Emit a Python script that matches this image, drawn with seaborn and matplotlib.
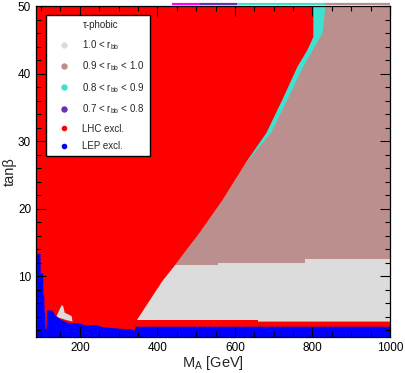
import numpy as np
import pandas as pd
import matplotlib
matplotlib.use("Agg")
import matplotlib.pyplot as plt
from matplotlib.lines import Line2D
from matplotlib.ticker import MultipleLocator
import seaborn as sns

# ---------------- data ----------------
x_range = [87, 1000]
y_range = [1, 50]

# right edge of the LHC-excluded (red) region, as function of tan(beta)
lhc_tb = [1.0, 3.5, 9.4, 11.4, 13.4, 16.4, 21.3, 27.0, 31.3, 36.2, 41.1, 43.6, 45.5, 50.0]
lhc_ma = [345, 345, 412, 440, 466, 506, 566, 628, 680, 721, 760, 786, 801, 801]

# right edge of the 0.8 < r_bb < 0.9 (turquoise) band
cyan_tb = [26.5, 31.3, 36.2, 41.1, 46.1, 50.0]
cyan_ma = [622, 692, 734, 775, 825, 832]

# 1.0 < r_bb (grey) region: bottom and stepwise top
grey_ma = [345, 556, 780, 1000]
grey_top = [11.6, 12.0, 12.6, 12.6]
grey_bottom = 3.3

# small grey island at low M_A
island_ma = [140, 153, 157, 161, 179, 181, 166, 144]
island_tb = [4.1, 5.7, 5.6, 4.6, 4.1, 3.3, 3.5, 3.9]

# LHC excluded band at low tan(beta)
band_ma = [87, 660, 1000]
band_top = [3.5, 3.2, 3.2]

# LEP excluded (blue) region upper edge
lep_ma = [87, 97, 98, 104, 105, 107, 108, 109, 110, 113, 114, 128, 135, 148,
          166, 182, 200, 210, 244, 260, 303, 337, 340, 343, 1000]
lep_tb = [13.4, 13.4, 10.5, 10.5, 7.2, 7.2, 4.7, 4.7, 2.3, 2.3, 5.0, 5.0, 4.3, 3.7,
          3.2, 3.1, 3.1, 2.8, 2.8, 2.5, 2.3, 2.2, 1.9, 2.6, 2.6]

# points at the top edge (tan(beta) = 50) spilling over the frame
edge_ma_start = [437, 510, 605, 832]
edge_ma_end = [510, 605, 832, 1000]
edge_colors = ["#FF00FF", "#6A2FB5", "#40E0D0", "#BC8F8F"]

legend_labels = ["τ-phobic", r"1.0 < r$_{\rm bb}$", r"0.9 < r$_{\rm bb}$ < 1.0",
                 r"0.8 < r$_{\rm bb}$ < 0.9", r"0.7 < r$_{\rm bb}$ < 0.8",
                 "LHC excl.", "LEP excl."]
legend_colors = ["none", "#DCDCDC", "#BC8F8F", "#40E0D0", "#6A2FB5", "#FF0000", "#0000FF"]

C_GREY, C_BROWN, C_CYAN, C_RED, C_BLUE = "#DCDCDC", "#BC8F8F", "#40E0D0", "#FF0000", "#0000FF"

# ---------------- style ----------------
sns.set_theme(style="ticks")
plt.rcParams["font.family"] = ["Liberation Sans", "DejaVu Sans"]
plt.rcParams["mathtext.fontset"] = "custom"
plt.rcParams["mathtext.rm"] = "Liberation Sans"
plt.rcParams["mathtext.it"] = "Liberation Sans:italic"

fig = plt.figure(figsize=(4.05, 3.73), dpi=100)
ax = fig.add_axes([0.0889, 0.0965, 0.874, 0.887])
ax.set_axisbelow(False)

# background: 0.9 < r_bb < 1.0
ax.fill_between(x_range, y_range[0], y_range[1], color=C_BROWN, lw=0)
# grey region
ax.fill_between(grey_ma, grey_bottom, grey_top, step="post", color=C_GREY, lw=0)
# turquoise band
ax.fill_betweenx(cyan_tb, x_range[0], cyan_ma, color=C_CYAN, lw=0)
# LHC excluded
ax.fill_betweenx(lhc_tb, x_range[0], lhc_ma, color=C_RED, lw=0)
ax.fill_between(band_ma, 1.0, band_top, step="post", color=C_RED, lw=0)
# grey island
ax.fill(island_ma, island_tb, color=C_GREY, lw=0)
# LEP excluded
ax.fill_between(lep_ma, 0.5, lep_tb, color=C_BLUE, lw=0)

# top edge points spilling above frame
for x0, x1, c in zip(edge_ma_start, edge_ma_end, edge_colors):
    ax.plot([x0, x1], [50.35, 50.35], color=c, lw=1.6, clip_on=False,
            solid_capstyle="butt", zorder=0.5)

ax.set_xlim(*x_range)
ax.set_ylim(*y_range)
ax.set_xticks([200, 400, 600, 800, 1000])
ax.xaxis.set_minor_locator(MultipleLocator(50))
ax.set_yticks([10, 20, 30, 40, 50])
ax.yaxis.set_minor_locator(MultipleLocator(2))
ax.tick_params(which="both", direction="in", top=True, right=True,
               labelsize=8.5, colors="black", width=0.8, zorder=6)
ax.tick_params(which="major", length=7)
ax.tick_params(which="minor", length=3.5)
for s in ax.spines.values():
    s.set_color("black")
    s.set_linewidth(0.9)
    s.set_zorder(5)

ax.set_xlabel(r"M$_{\rm A}$ [GeV]", fontsize=10.5, labelpad=0)
ax.set_ylabel("tanβ", fontsize=10.5, labelpad=1)

handles = []
for lab, c in zip(legend_labels, legend_colors):
    if c == "none":
        handles.append(Line2D([], [], linestyle="none", marker="", label=lab))
    else:
        ms = 3.0 if lab.endswith("excl.") else 3.6
        handles.append(Line2D([], [], linestyle="none", marker="o", markersize=ms,
                              markerfacecolor=c, markeredgecolor=c, label=lab))
leg = ax.legend(handles=handles, loc="upper left", bbox_to_anchor=(0.028, 0.973),
                borderaxespad=0, fontsize=7, handlelength=2.6, handletextpad=0.6,
                labelspacing=0.78, borderpad=0.55, fancybox=False, framealpha=1,
                edgecolor="black", facecolor="white")
leg.get_frame().set_linewidth(1.0)
leg.set_zorder(10)

fig.savefig("out.png", dpi=100)
